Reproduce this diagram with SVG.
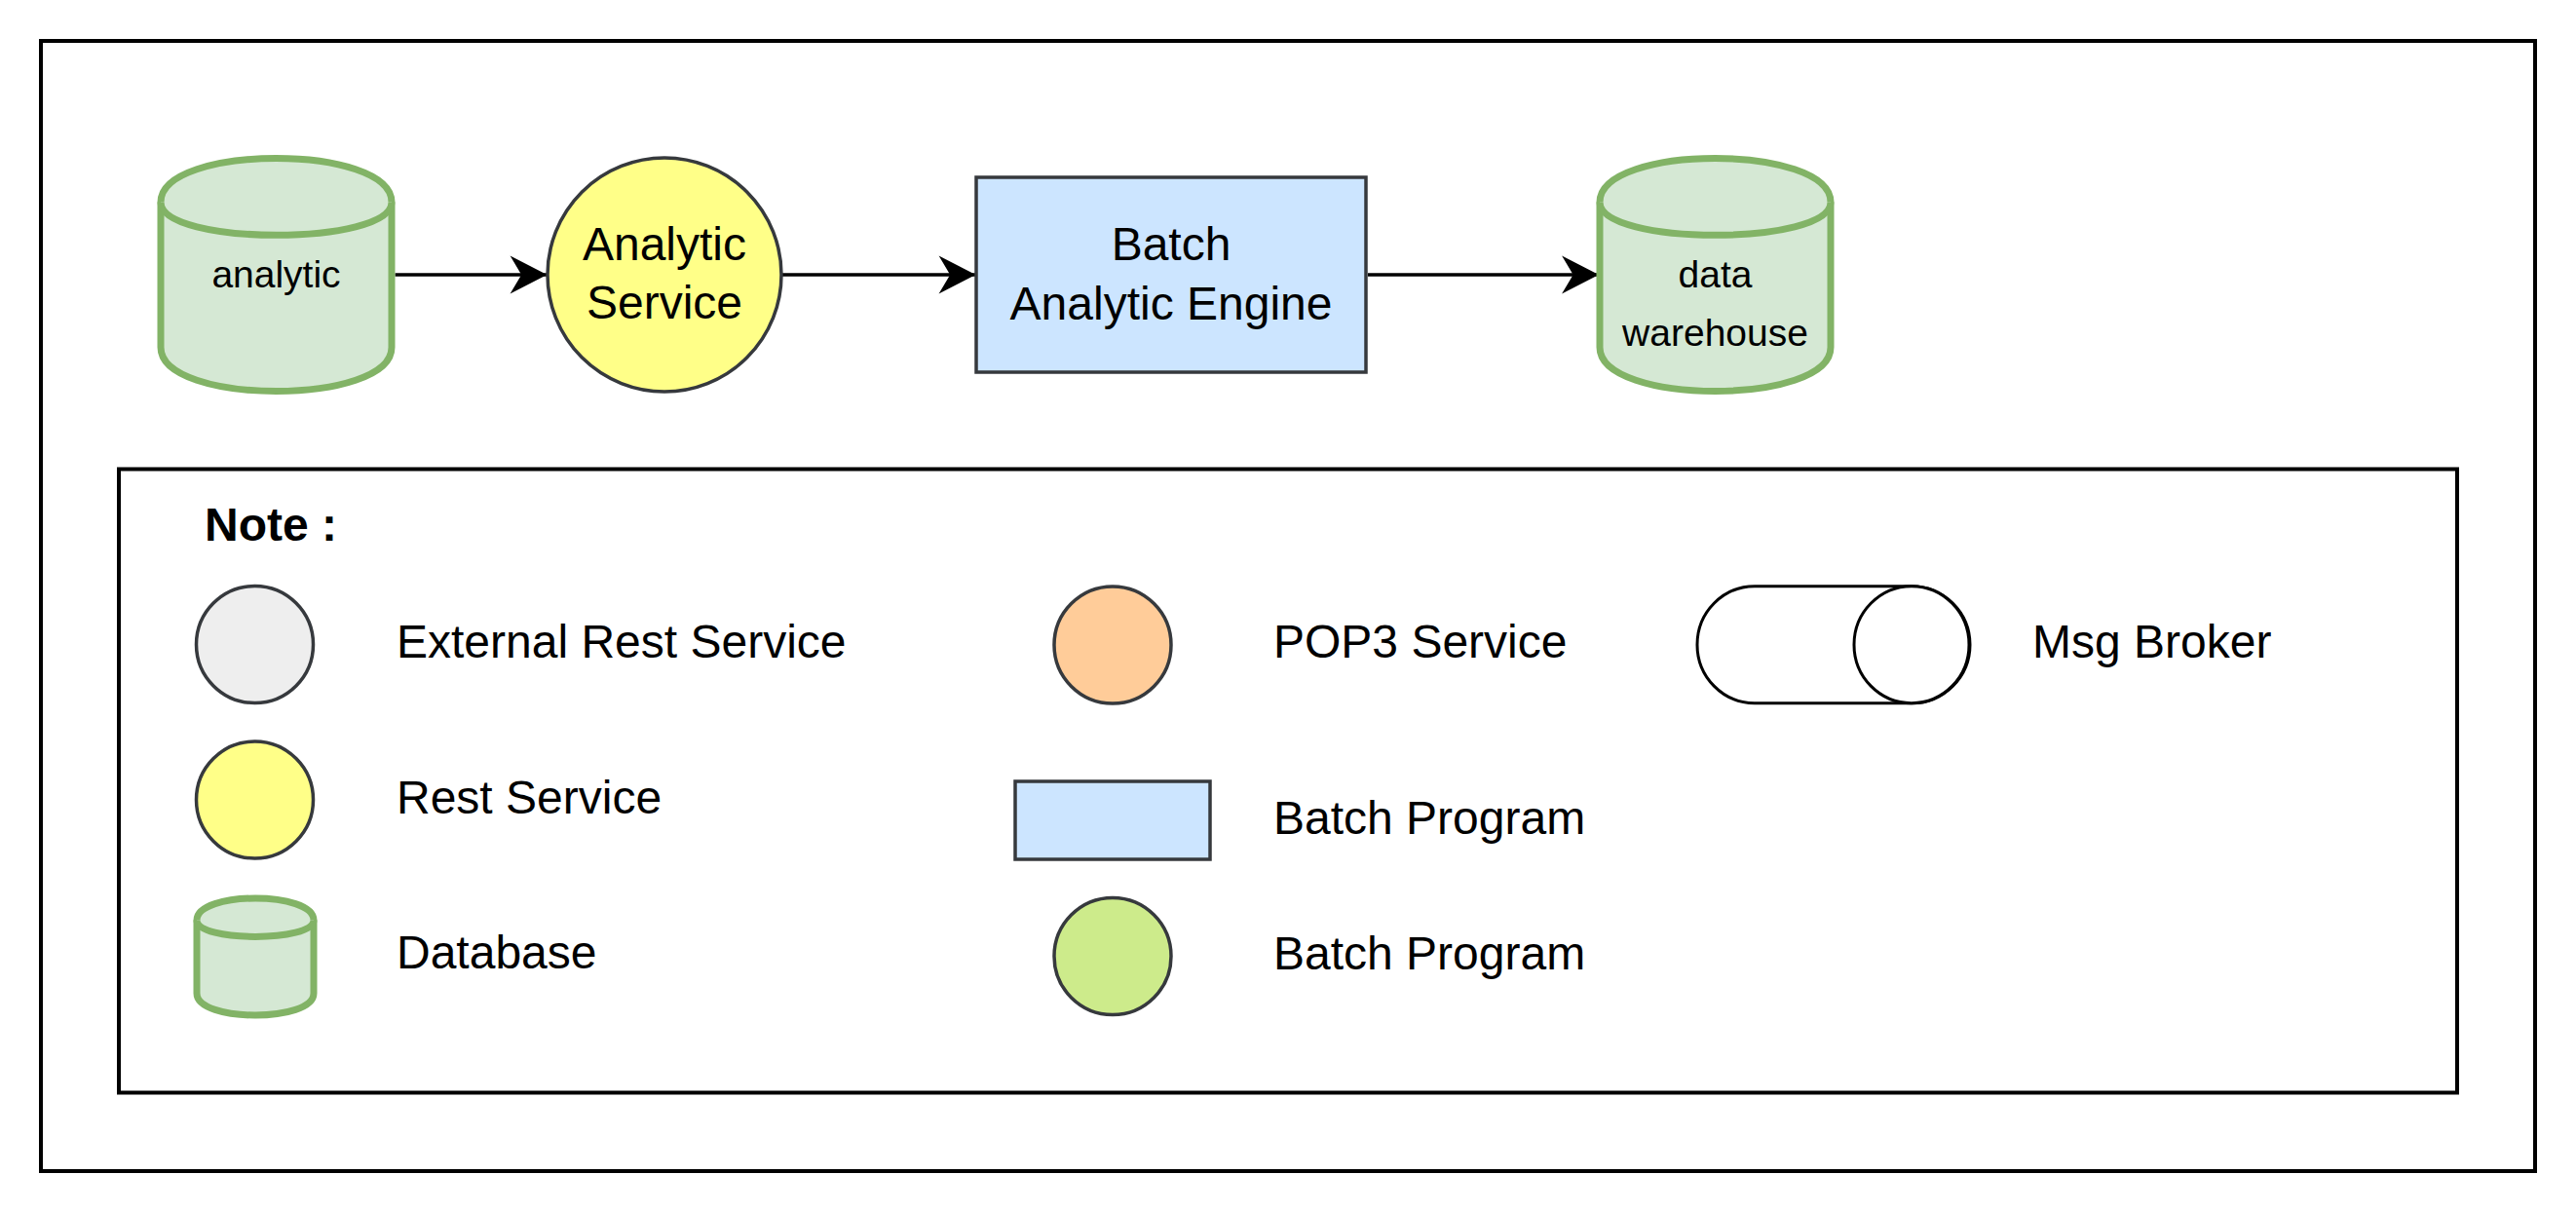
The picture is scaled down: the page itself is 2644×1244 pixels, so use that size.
<svg xmlns="http://www.w3.org/2000/svg" width="2644" height="1244" viewBox="0 0 2644 1244">
<defs>
<style>
.frame{fill:none;stroke:#000;stroke-width:4}
.db{fill:#d5e8d4;stroke:#82b366;stroke-width:7;stroke-linejoin:round}
.svc{stroke:#36393d;stroke-width:3.5}
.edge{fill:none;stroke:#000;stroke-width:3.5}
.lbl{font-family:"Liberation Sans",Arial,Helvetica,sans-serif;fill:#000}
.big{font-size:48px}
.small{font-size:39px}
.mid{text-anchor:middle}
</style>
<marker id="arr" markerUnits="userSpaceOnUse" markerWidth="40" markerHeight="40" viewBox="-36 -19 37 38" refX="0" refY="0" orient="auto">
<path d="M0,0 L-36,-18.5 L-25,0 L-36,18.5 Z" fill="#000"/>
</marker>
</defs>
<rect width="2644" height="1244" fill="#fff"/>
<g id="outer-frame"><rect class="frame" x="42" y="42" width="2560" height="1160"/></g>

<g id="connectors">
<path class="edge" d="M405.5,282 H561.5" marker-end="url(#arr)"/>
<path class="edge" d="M802,282 H1001.5" marker-end="url(#arr)"/>
<path class="edge" d="M1404,282 H1641" marker-end="url(#arr)"/>
</g>

<g id="node-analytic">
<path class="db" d="M165,207.5 C165,147.5 402,147.5 402,207.5 L402,356.5 C402,416.5 165,416.5 165,356.5 Z"/>
<path class="db" fill="none" d="M165,207.5 C165,252.5 402,252.5 402,207.5"/>
<text class="lbl small mid" x="283.5" y="295">analytic</text>
</g>

<g id="node-analytic-service">
<circle class="svc" cx="682" cy="282" r="120" fill="#ffff88"/>
<text class="lbl big mid" x="682" y="267">Analytic</text>
<text class="lbl big mid" x="682" y="327">Service</text>
</g>

<g id="node-batch-engine">
<rect class="svc" x="1002" y="182" width="400" height="200" fill="#cce5ff"/>
<text class="lbl big mid" x="1202" y="267">Batch</text>
<text class="lbl big mid" x="1202" y="328">Analytic Engine</text>
</g>

<g id="node-data-warehouse">
<path class="db" d="M1642,207.5 C1642,147.5 1879,147.5 1879,207.5 L1879,356.5 C1879,416.5 1642,416.5 1642,356.5 Z"/>
<path class="db" fill="none" d="M1642,207.5 C1642,252.5 1879,252.5 1879,207.5"/>
<text class="lbl small mid" x="1760.5" y="295">data</text>
<text class="lbl small mid" x="1760.5" y="355">warehouse</text>
</g>

<g id="legend">
<rect class="frame" x="122" y="481.5" width="2400" height="640"/>
<text class="lbl big" x="210" y="555" font-weight="bold">Note :</text>

<g id="legend-external-rest">
<circle class="svc" cx="261.5" cy="661.5" r="60" fill="#eeeeee"/>
<text class="lbl big" x="407" y="675">External Rest Service</text>
</g>
<g id="legend-rest">
<circle class="svc" cx="261.5" cy="821" r="60" fill="#ffff88"/>
<text class="lbl big" x="407" y="835">Rest Service</text>
</g>
<g id="legend-database">
<path class="db" d="M202,944.5 C202,914.5 322,914.5 322,944.5 L322,1019.5 C322,1049.5 202,1049.5 202,1019.5 Z"/>
<path class="db" fill="none" d="M202,944.5 C202,967 322,967 322,944.5"/>
<text class="lbl big" x="407" y="994">Database</text>
</g>
<g id="legend-pop3">
<circle class="svc" cx="1142" cy="662" r="60" fill="#ffcc99"/>
<text class="lbl big" x="1307" y="675">POP3 Service</text>
</g>
<g id="legend-batch-rect">
<rect class="svc" x="1042" y="802" width="200" height="80" fill="#cce5ff"/>
<text class="lbl big" x="1307" y="856">Batch Program</text>
</g>
<g id="legend-batch-circle">
<circle class="svc" cx="1142" cy="981.5" r="60" fill="#cdeb8b"/>
<text class="lbl big" x="1307" y="995">Batch Program</text>
</g>
<g id="legend-msg-broker">
<path d="M1801,601.7 H1962 A60,60 0 0 1 1962,721.7 H1801 A59,60 0 0 1 1801,601.7 Z" fill="#fff" stroke="#000" stroke-width="3"/>
<ellipse cx="1962" cy="661.7" rx="59" ry="60" fill="#fff" stroke="#000" stroke-width="3"/>
<text class="lbl big" x="2086" y="675">Msg Broker</text>
</g>
</g>
</svg>
